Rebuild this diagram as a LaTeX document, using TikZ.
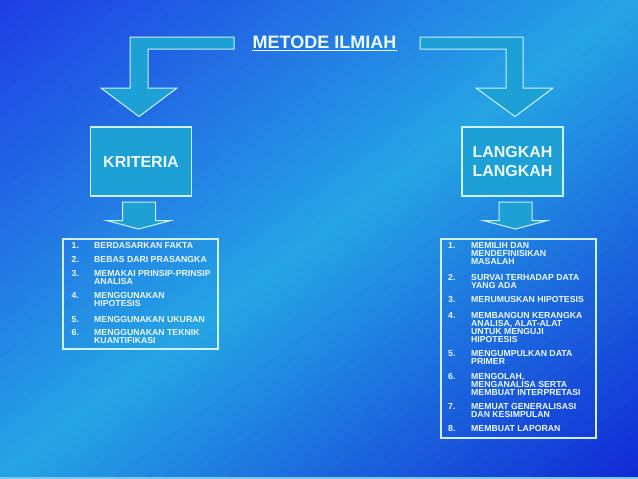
\documentclass[tikz,border=0pt]{standalone}
\usepackage{fontspec}
\setmainfont{Liberation Sans}
\usetikzlibrary{patterns}
\definecolor{bgdark}{RGB}{28,58,228}
\definecolor{bglight}{RGB}{34,164,228}
\definecolor{bgdark2}{RGB}{14,38,214}
\definecolor{arrowfill}{RGB}{28,160,214}
\definecolor{edge}{RGB}{205,242,255}
\definecolor{txt}{RGB}{236,249,255}
\definecolor{bottomline}{RGB}{120,200,245}
\begin{document}
\begin{tikzpicture}[x=1pt,y=-1pt,
  blockarrow/.style={fill=arrowfill, draw=edge, line width=1pt, line join=miter},
  bigbox/.style={rectangle, fill=arrowfill, draw=edge, line width=1.4pt, text=txt,
    font=\bfseries\fontsize{16}{19}\selectfont, align=center, inner sep=0pt,
    minimum width=101pt, minimum height=69pt},
  listbox/.style={rectangle, draw=edge, line width=1.1pt, inner sep=0pt},
  num/.style={anchor=base west, inner sep=0pt, text=txt, font=\bfseries\fontsize{8.7}{8.3}\selectfont},
  item/.style={anchor=base west, inner sep=0pt, text=txt, align=left, font=\bfseries\fontsize{8.7}{8.3}\selectfont}]
% background: diagonal gradient, dark at top-left and bottom-right, light band through the middle
\begin{scope}
\clip (0,0) rectangle (638,479);
\foreach \i in {0,...,39}{
  \pgfmathsetmacro{\a}{\i/40}
  \pgfmathsetmacro{\b}{(\i+1)/40+0.004}
  \pgfmathsetmacro{\p}{100*(\i+0.5)/40}
  \fill[bglight!\p!bgdark] ({638*(\a+1)},-479) -- ({638*(\a-2)},958) -- ({638*(\b-2)},958) -- ({638*(\b+1)},-479) -- cycle;
}
\foreach \i in {40,...,79}{
  \pgfmathsetmacro{\a}{\i/40}
  \pgfmathsetmacro{\b}{(\i+1)/40+0.004}
  \pgfmathsetmacro{\p}{100*(2-(\i+0.5)/40)}
  \fill[bglight!\p!bgdark2] ({638*(\a+1)},-479) -- ({638*(\a-2)},958) -- ({638*(\b-2)},958) -- ({638*(\b+1)},-479) -- cycle;
}
\fill[pattern=north east lines, pattern color=white, opacity=0.05] (0,0) rectangle (638,479);
\fill[bottomline] (0,476.5) rectangle (638,479);
\end{scope}
\useasboundingbox (0,0) rectangle (638,479);

% title
\node[anchor=base, inner sep=0pt, text=txt, font=\bfseries\fontsize{18}{20}\selectfont] (title) at (324.5,48) {METODE ILMIAH};
\draw[txt, line width=1.2pt] ([yshift=-2.6pt]title.base west) -- ([yshift=-2.6pt]title.base east);

% big bent arrows
\draw[blockarrow] (234,37) -- (130,37) -- (130,88) -- (101,88) -- (139,116.5) -- (177,88) -- (148,88) -- (148,49) -- (234,49) -- cycle;
\draw[blockarrow] (420,37) -- (523,37) -- (523,88) -- (553,88) -- (515,116.5) -- (476,88) -- (506,88) -- (506,49) -- (420,49) -- cycle;

% boxes
\node[bigbox] (krit) at (141,161.5) {KRITERIA};
\node[bigbox] (lang) at (512.5,161.5) {LANGKAH\\LANGKAH};

% small arrows
\draw[blockarrow] (122.5,202) -- (155.5,202) -- (155.5,220.5) -- (171,220.5) -- (138.5,229) -- (106.5,220.5) -- (122.5,220.5) -- cycle;
\draw[blockarrow] (499,202) -- (532,202) -- (532,220.5) -- (547.5,220.5) -- (515.5,229) -- (483,220.5) -- (499,220.5) -- cycle;

% list boxes
\node[listbox, minimum width=155pt, minimum height=110pt] (kbox) at (140.5,294) {};
\node[listbox, minimum width=155pt, minimum height=199pt] (lbox) at (518.5,338.5) {};

% left items (multi-line items are placed by the baseline of their last line)
\node[num] (kn1) at (71.5,248.5) {1.};
\node[item] (k1) at (94,248.5) {BERDASARKAN FAKTA};
\node[num] (kn2) at (71.5,262) {2.};
\node[item] (k2) at (94,262) {BEBAS DARI PRASANGKA};
\node[num] (kn3) at (71.5,276.5) {3.};
\node[item] (k3) at (94,284.8) {MEMAKAI PRINSIP-PRINSIP\\ANALISA};
\node[num] (kn4) at (71.5,298.5) {4.};
\node[item] (k4) at (94,306.8) {MENGGUNAKAN\\HIPOTESIS};
\node[num] (kn5) at (71.5,322) {5.};
\node[item] (k5) at (94,322) {MENGGUNAKAN UKURAN};
\node[num] (kn6) at (71.5,335.5) {6.};
\node[item] (k6) at (94,343.8) {MENGGUNAKAN TEKNIK\\KUANTIFIKASI};

% right items
\node[num] (ln1) at (448,248) {1.};
\node[item] (l1) at (471,264.6) {MEMILIH DAN\\MENDEFINISIKAN\\MASALAH};
\node[num] (ln2) at (448,280) {2.};
\node[item] (l2) at (471,288.3) {SURVAI TERHADAP DATA\\YANG ADA};
\node[num] (ln3) at (448,302) {3.};
\node[item] (l3) at (471,302) {MERUMUSKAN HIPOTESIS};
\node[num] (ln4) at (448,318) {4.};
\node[item] (l4) at (471,342.9) {MEMBANGUN KERANGKA\\ANALISA, ALAT-ALAT\\UNTUK MENGUJI\\HIPOTESIS};
\node[num] (ln5) at (448,356) {5.};
\node[item] (l5) at (471,364.3) {MENGUMPULKAN DATA\\PRIMER};
\node[num] (ln6) at (448,379) {6.};
\node[item] (l6) at (471,395.6) {MENGOLAH,\\MENGANALISA SERTA\\MEMBUAT INTERPRETASI};
\node[num] (ln7) at (448,409) {7.};
\node[item] (l7) at (471,417.3) {MEMUAT GENERALISASI\\DAN KESIMPULAN};
\node[num] (ln8) at (448,431) {8.};
\node[item] (l8) at (471,431) {MEMBUAT LAPORAN};
\end{tikzpicture}
\end{document}
